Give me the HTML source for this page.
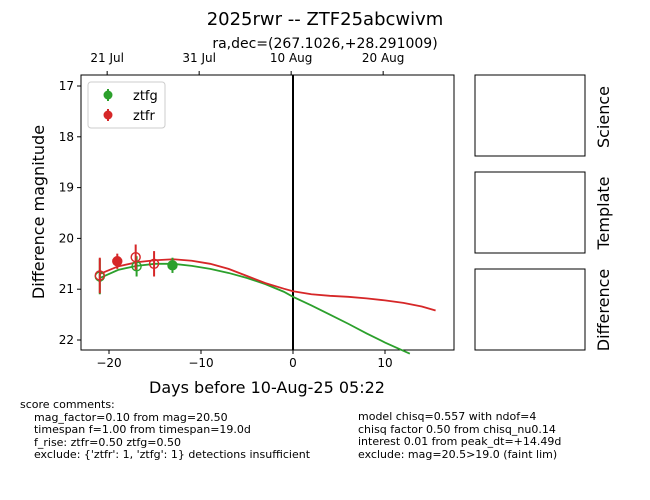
<!DOCTYPE html>
<html><head><meta charset="utf-8"><style>
body{margin:0;background:#fff;font-family:"Liberation Sans","DejaVu Sans",sans-serif;}
svg text{font-family:"DejaVu Sans","Liberation Sans",sans-serif;}
.c{position:absolute;font-size:11px;font-family:"DejaVu Sans","Liberation Sans",sans-serif;line-height:12.5px;white-space:pre;}
</style></head><body>
<div style="position:relative;width:650px;height:500px;overflow:hidden">
<svg id="chart" width="650" height="500" style="position:absolute;left:0;top:0">
<text x="325" y="25" font-size="18" text-anchor="middle">2025rwr -- ZTF25abcwivm</text>
<text x="325" y="48" font-size="14" text-anchor="middle">ra,dec=(267.1026,+28.291009)</text>
<g id="plot"></g>
<rect x="475" y="75" width="110" height="81" fill="none" stroke="#000"/>
<rect x="475" y="172" width="110" height="81" fill="none" stroke="#000"/>
<rect x="475" y="269" width="110" height="81" fill="none" stroke="#000"/>
<text transform="translate(609,117) rotate(-90)" font-size="16" text-anchor="middle">Science</text>
<text transform="translate(609,213) rotate(-90)" font-size="16" text-anchor="middle">Template</text>
<text transform="translate(609,310) rotate(-90)" font-size="16" text-anchor="middle">Difference</text>
</svg>
<div class="c" style="left:20px;top:399px">score comments:
    mag_factor=0.10 from mag=20.50
    timespan f=1.00 from timespan=19.0d
    f_rise: ztfr=0.50 ztfg=0.50
    exclude: {'ztfr': 1, 'ztfg': 1} detections insufficient</div>
<div class="c" style="left:358px;top:411px">model chisq=0.557 with ndof=4
chisq factor 0.50 from chisq_nu0.14
interest 0.01 from peak_dt=+14.49d
exclude: mag=20.5&gt;19.0 (faint lim)</div>
</div>
<script>
const xTicks=[-20,-10,0,10];
const yTicks=[17,18,19,20,21,22];
const topTicks=["21 Jul","31 Jul","10 Aug","20 Aug"];
const topTickDays=[-20.2,-10.2,-0.2,9.8];
const gDays=[-21,-17,-13.1];
const gMags=[20.75,20.55,20.53];
const gErrs=[0.35,0.2,0.15];
const gFilled=[false,false,true];
const rDays=[-21,-19.1,-17.1,-15.1];
const rMags=[20.73,20.45,20.37,20.5];
const rErrs=[0.35,0.15,0.25,0.25];
const rFilled=[false,true,false,false];
const gCurveDays=[-21,-19,-17,-15,-13,-11,-9,-7,-5,-3,-1,0,2,4,6,8,10,12.7];
const gCurveMags=[20.78,20.62,20.54,20.5,20.5,20.54,20.6,20.68,20.78,20.9,21.05,21.15,21.32,21.5,21.68,21.87,22.05,22.27];
const rCurveDays=[-21,-19,-17,-15,-13,-11,-9,-7,-5,-3,-1,0,2,4,6,8,10,12,14,15.5];
const rCurveMags=[20.7,20.55,20.47,20.43,20.41,20.44,20.5,20.6,20.74,20.88,20.99,21.04,21.1,21.13,21.15,21.18,21.22,21.27,21.34,21.42];
const NS="http://www.w3.org/2000/svg";
const L=81,R=454,T=75,B=350;
const xs=d=>293+d*9.2;
const ys=m=>86+(m-17)*50.8;
const g=document.getElementById('plot');
function mk(t,a){const e=document.createElementNS(NS,t);for(const k in a)e.setAttribute(k,a[k]);g.appendChild(e);return e;}
let e=mk('rect',{x:L,y:T,width:R-L,height:B-T,fill:'none',stroke:'#000'});


xTicks.forEach(d=>{const x=xs(d);mk('line',{x1:x,x2:x,y1:B,y2:B+4,stroke:'#000'});
 e=mk('text',{x:x,y:B+17,'font-size':12,'text-anchor':'middle'});e.textContent=d<0?'\u2212'+(-d):d;
 
 });
yTicks.forEach(m=>{const y=ys(m);mk('line',{x1:L-4,x2:L,y1:y,y2:y,stroke:'#000'});
 e=mk('text',{x:L-7,y:y+4,'font-size':12,'text-anchor':'end'});e.textContent=m;
 
 });
topTicks.forEach((s,i)=>{const x=xs(topTickDays[i]);mk('line',{x1:x,x2:x,y1:T-4,y2:T,stroke:'#000'});
 e=mk('text',{x:x,y:T-13,'font-size':12,'text-anchor':'middle'});e.textContent=s;
 
 });
e=mk('text',{x:267,y:393,'font-size':16,'text-anchor':'middle'});e.textContent='Days before 10-Aug-25 05:22';


e=mk('text',{transform:'translate(44,212) rotate(-90)','font-size':16,'text-anchor':'middle'});e.textContent='Difference magnitude';


e=mk('line',{x1:xs(0),x2:xs(0),y1:T,y2:B,stroke:'#000','stroke-width':2});


function curve(ds,ms,c,n){e=mk('polyline',{points:ds.map((d,i)=>xs(d)+','+ys(ms[i])).join(' '),fill:'none',stroke:c,'stroke-width':1.8});
 
 }
curve(gCurveDays,gCurveMags,'#2ca02c','ztfg-model-curve');
curve(rCurveDays,rCurveMags,'#d62728','ztfr-model-curve');
function pts(ds,ms,es,fs,c,n){ds.forEach((d,i)=>{const x=xs(d),y=ys(ms[i]);
 mk('line',{x1:x,x2:x,y1:ys(ms[i]-es[i]),y2:ys(ms[i]+es[i]),stroke:c,'stroke-width':2});
 e=mk('circle',{cx:x,cy:y,r:4.5,fill:fs[i]?c:'none',stroke:c,'stroke-width':1.4});
 
 });}
pts(gDays,gMags,gErrs,gFilled,'#2ca02c','ztfg-point');
pts(rDays,rMags,rErrs,rFilled,'#d62728','ztfr-point');
e=mk('rect',{x:88,y:82,width:77,height:46,rx:3,fill:'#fff',stroke:'#ccc'});


[['ztfg','#2ca02c',95],['ztfr','#d62728',115]].forEach(([s,c,y])=>{
 mk('line',{x1:108,x2:108,y1:y-6,y2:y+6,stroke:c,'stroke-width':2});
 mk('circle',{cx:108,cy:y,r:4.5,fill:c});
 e=mk('text',{x:133,y:y+5,'font-size':13});e.textContent=s;
 
 });
</script>
</body></html>
